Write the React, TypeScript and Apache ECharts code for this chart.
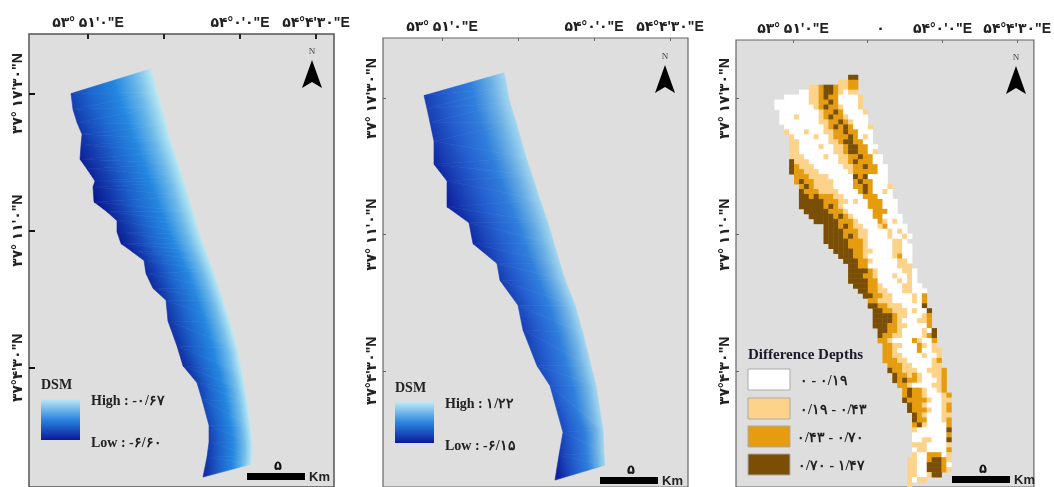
import React, { useEffect, useRef } from "react";
import * as echarts from "echarts";

const xTicks = [0, 76, 152, 228];
const xLabelValues = [0, 89, 152, 228];
const yTicks1 = [0, 138, 276];
const yTicks2 = [0, 137, 274];
const xLabels = ['۵۳° ۵۱\'۰"E', "۰", '۵۴°۰\'۰"E', '۵۴°۴\'۳۰"E'];
const yLabels = ['۳۷°۴\'۳۰"N', '۳۷° ۱۱\'۰"N', '۳۷° ۱۷\'۳۰"N'];

// strip outline, map units: [left E, left N, right E, right N, distance over which the ramp runs]
const stripDsm1 = [
  [-17, 276, 63, 301, 111], [-15, 260, 69, 277, 108], [-11, 247, 73, 263, 105], [-6, 235, 78, 245, 103],
  [-7, 224, 82, 230, 100], [-8, 210, 86, 218, 98], [-1, 200, 90, 206, 96], [7, 188, 94, 193, 94],
  [5, 182, 96, 187, 93], [6, 167, 100, 173, 92], [19, 157, 105, 157, 90], [29, 148, 108, 147, 88],
  [29, 137, 112, 134, 86], [33, 125, 115, 125, 84], [44, 117, 118, 117, 80], [56, 108, 121, 108, 77],
  [58, 95, 125, 98, 74], [65, 80, 131, 80, 73], [78, 68, 135, 68, 72], [80, 47, 142, 45, 72],
  [89, 22, 149, 20, 70], [95, 2, 154, -5, 66], [109, -15, 157, -22, 62], [114, -32, 159, -35, 60],
  [121, -58, 162, -58, 55], [121, -75, 164, -75, 54], [119, -90, 164, -88, 54], [115, -110, 163, -97, 54],
];
const stripDsm2 = [
  [-18, 277, 62, 300, 100], [-15, 264, 65, 285, 100], [-12, 250, 68, 270, 98], [-8, 231, 74, 250, 96],
  [-8, 208, 84, 215, 94], [5, 191, 90, 197, 92], [5, 165, 98, 172, 90], [27, 149, 106, 149, 88],
  [31, 128, 112, 128, 84], [55, 108, 118, 108, 80], [58, 91, 123, 92, 76], [76, 66, 133, 66, 74],
  [81, 41, 141, 38, 72], [95, 5, 149, 5, 70], [108, -15, 154, -15, 66], [121, -62, 161, -59, 52],
  [117, -85, 162, -82, 50], [113, -110, 163, -95, 48],
];
const rampDsm1 = ["#b9e8f2", "#6db9ea", "#2487e0", "#1c62cc", "#143cae", "#0b1a92"];
const rampDsm2 = ["#a2d6f0", "#6aaee4", "#2f7fdc", "#2460d0", "#1a44b8", "#0d22a0"];
const rampStops = [0, 0.15, 0.35, 0.6, 0.8, 1];

// difference-depth raster, one row per 5 map units going south: [first column, classes 0..3]
const rasterTopN = 298;
const rasterLeftE = -19;
const rasterCell = 5;
const rasterRows: [number, string][] = [
  [15, "33"], [13, "1122"], [7, "1123321122"], [5, "001123321011"], [2, "0000011232200001"],
  [0, "000000011223200001"], [0, "000000001232210001"], [1, "000000001223200001"], [1, "000100001232210000"],
  [1, "000000001122321000"], [2, "000000001232320001"], [2, "100010001122322000"], [3, "10000100122232010"],
  [3, "11000000112332200"], [3, "110000100112332200"], [3, "110000000112332201"], [3, "1110000100112232200"],
  [3, "3111000000112322200"], [3, "32111000000112232200"], [3, "32211100000012222200"], [4, "2221111000003230000"],
  [4, "2322111100002322000"], [5, "2321111000022320001"], [5, "3222111100002320010"], [5, "3323222110000222000"],
  [5, "33333222110100222000"], [5, "33333232100000222000"], [6, "3333322210000022200"], [7, "3333323210000220000"],
  [8, "333332221000021010"], [10, "33323211000120000"], [10, "33332221100001010"], [10, "333323211000010010"],
  [10, "33333222100000110"], [11, "33332221000001100"], [12, "3333221100001100"], [13, "333221000001200"],
  [14, "33322100000110"], [15, "3322000000111"], [15, "33332100000110"], [15, "33322100010010"],
  [15, "33332200001010"], [16, "33322100001100"], [17, "33221100011000"], [18, "3322110000102"],
  [19, "221110000102"], [19, "332211100003"], [20, "332211101003"], [20, "333321100012"], [20, "333321000112"],
  [20, "333221100002"], [21, "332210000103"], [21, "322110000123"], [21, "221000021002"], [22, "22110002101"],
  [22, "221000020011"], [22, "221100001001"], [22, "222110000012"], [23, "22211000011"], [23, "322111001112"],
  [24, "32212100112"], [24, "32322100012"], [25, "2210000112"], [26, "232210012"], [26, "2322100012"],
  [26, "3222210011"], [27, "322100012"], [27, "322210012"], [28, "32100011"], [28, "32200012"], [28, "23100002"],
  [28, "10000003"], [28, "00000002"], [28, "00110003"], [28, "11100001"], [28, "01100002"], [28, "10022201"],
  [27, "110023321"], [27, "110033320"], [27, "110033321"], [27, "1100133"], [27, "1011"], [27, "1"],
];
const classColors = ["#ffffff", "#fdd38a", "#e59c0e", "#7a4f05"];
const classLabels = ["۰ - ۰/۱۹", "۰/۱۹ - ۰/۴۳", "۰/۴۳ - ۰/۷۰", "۰/۷۰ - ۱/۴۷"];

const SANS = '"Liberation Sans","DejaVu Sans",sans-serif';
const SERIF = '"Liberation Serif","DejaVu Serif",serif';

function quads(rows: number[][]) {
  const out: number[][] = [];
  const depth = (r: number[]) => Math.hypot(r[2] - r[0], r[3] - r[1]) / r[4];
  for (let i = 0; i < rows.length - 1; i++) {
    const a = rows[i];
    const b = rows[i + 1];
    out.push([a[0], a[1], a[2], a[3], b[0], b[1], b[2], b[3], depth(a), depth(b)]);
  }
  return out;
}

// One triangle whose ramp position varies linearly between its corners, so neighbours join without a seam.
function shadedTriangle(pts: number[][], vals: number[], ramp: string[]) {
  const [p0, p1, p2] = pts;
  const [v0, v1, v2] = vals;
  const d = (p1[0] - p0[0]) * (p2[1] - p0[1]) - (p2[0] - p0[0]) * (p1[1] - p0[1]);
  const a = ((v1 - v0) * (p2[1] - p0[1]) - (v2 - v0) * (p1[1] - p0[1])) / d;
  const b = ((v2 - v0) * (p1[0] - p0[0]) - (v1 - v0) * (p2[0] - p0[0])) / d;
  const g2 = a * a + b * b || 1;
  const sx = p0[0] - (v0 * a) / g2;
  const sy = p0[1] - (v0 * b) / g2;
  const grad = new echarts.graphic.LinearGradient(
    sx, sy, sx + a / g2, sy + b / g2,
    ramp.map((c, i) => ({ offset: rampStops[i], color: c })), true as any
  );
  return { type: "polygon", shape: { points: pts }, style: { fill: grad, stroke: grad, lineWidth: 0.6 } };
}

function stripRender(ramp: string[]) {
  return (_: any, api: any) => {
    const p = (i: number) => api.coord([api.value(i), api.value(i + 1)]);
    const l1 = p(0), r1 = p(2), l2 = p(4), r2 = p(6);
    const t1 = api.value(8), t2 = api.value(9);
    return {
      type: "group",
      children: [
        shadedTriangle([r1, r2, l1], [0, 0, t1], ramp),
        shadedTriangle([l1, l2, r2], [t1, t2, 0], ramp),
      ],
    };
  };
}

function rasterData() {
  const out: number[][] = [];
  rasterRows.forEach(([col, s], r) => {
    for (let i = 0; i < s.length; i++) {
      out.push([rasterLeftE + (col + i) * rasterCell, rasterTopN - r * rasterCell, Number(s[i])]);
    }
  });
  return out;
}

function rasterRender(_: any, api: any) {
  const a = api.coord([api.value(0), api.value(1)]);
  const b = api.coord([api.value(0) + rasterCell, api.value(1) - rasterCell]);
  return {
    type: "rect",
    shape: { x: a[0], y: a[1], width: b[0] - a[0] + 0.4, height: b[1] - a[1] + 0.4 },
    style: { fill: classColors[api.value(2)] },
  };
}

function txt(text: string, x: number, y: number, font: string, align = "left", fill = "#222") {
  return { type: "text", x, y, silent: true, style: { text, font, fill, align, verticalAlign: "middle" } };
}

function northArrow(cx: number, tipY: number) {
  return [
    txt("N", cx, tipY - 9, `9px ${SERIF}`, "center", "#444"),
    {
      type: "polygon",
      shape: { points: [[cx, tipY], [cx + 10, tipY + 28], [cx, tipY + 22], [cx - 10, tipY + 28]] },
      style: { fill: "#000" },
    },
  ];
}

function scaleBar(x: number, y: number) {
  return [
    { type: "rect", shape: { x, y, width: 58, height: 7 }, style: { fill: "#000" } },
    txt("۵", x + 31, y - 8, `bold 13px ${SANS}`, "center", "#111"),
    txt("Km", x + 62, y + 3, `bold 13px ${SANS}`, "left", "#222"),
  ];
}

function dsmLegend(x: number, y: number, high: string, low: string) {
  return [
    txt("DSM", x, y - 15, `bold 14px ${SERIF}`),
    {
      type: "rect",
      shape: { x, y, width: 39, height: 41 },
      style: {
        fill: new echarts.graphic.LinearGradient(0, 0, 0, 1, [
          { offset: 0, color: "#bfe9f4" },
          { offset: 0.5, color: "#2a86e0" },
          { offset: 1, color: "#0b1a9a" },
        ]),
      },
    },
    txt("High : " + high, x + 50, y + 1, `bold 14px ${SERIF}`),
    txt("Low : " + low, x + 50, y + 43, `bold 14px ${SERIF}`),
  ];
}

function diffLegend() {
  const tops = [369, 398, 426, 454];
  const lx = [800, 800, 797, 798];
  const out: any[] = [txt("Difference Depths", 748, 354, `bold 15px ${SERIF}`, "left", "#1a1a2a")];
  tops.forEach((t, i) => {
    out.push({
      type: "rect",
      shape: { x: 748, y: t, width: 42, height: 21 },
      style: { fill: classColors[i], stroke: "#aaa", lineWidth: 1 },
    });
    out.push(txt(classLabels[i], lx[i], t + 11, `bold 14px ${SERIF}`));
  });
  return out;
}

function xAxis(grid: number, min: number, max: number, labelIdx: number[], thick: boolean) {
  return {
    type: "value", gridIndex: grid, position: "top", min, max,
    splitLine: { show: false }, axisLine: { show: false, onZero: false },
    axisTick: {
      show: true, inside: true, customValues: xTicks, length: thick ? 5 : 3,
      lineStyle: { color: thick ? "#222" : "#666", width: thick ? 2 : 1 },
    },
    axisLabel: {
      show: true, customValues: labelIdx.map((i) => xLabelValues[i]), margin: 5, hideOverlap: false,
      formatter: (v: number) => xLabels[xLabelValues.indexOf(v)],
      fontSize: 14, fontWeight: "bold", fontFamily: SANS, color: "#222",
    },
  };
}

function yAxis(grid: number, min: number, max: number, ticks: number[], thick: boolean) {
  return {
    type: "value", gridIndex: grid, min, max,
    splitLine: { show: false }, axisLine: { show: false, onZero: false },
    axisTick: {
      show: true, inside: true, customValues: ticks, length: thick ? 6 : 3,
      lineStyle: { color: thick ? "#111" : "#666", width: thick ? 2 : 1 },
    },
    axisLabel: {
      show: true, customValues: ticks, rotate: 90, margin: 5, hideOverlap: false,
      formatter: (v: number) => yLabels[ticks.indexOf(v)],
      fontSize: 14, fontWeight: "bold", fontFamily: SANS, color: "#222",
    },
  };
}

export default function App() {
  const ref = useRef<HTMLDivElement>(null);
  useEffect(() => {
    document.body.style.margin = "0";
    const chart = echarts.init(ref.current!, null, { renderer: "svg" });
    const gridBase = { show: true, backgroundColor: "#dedede", containLabel: false };
    chart.setOption({
      animation: false,
      backgroundColor: "#ffffff",
      grid: [
        { ...gridBase, left: 29, top: 34, width: 305, height: 456, borderColor: "#555", borderWidth: 1.5 },
        { ...gridBase, left: 383, top: 38, width: 305, height: 452, borderColor: "#666", borderWidth: 1.2 },
        { ...gridBase, left: 736, top: 40, width: 303, height: 450, borderColor: "#666", borderWidth: 1.2 },
      ],
      xAxis: [
        xAxis(0, -59, 246, [0, 2, 3], true),
        xAxis(1, -59, 246, [0, 2, 3], false),
        xAxis(2, -58, 245, [0, 1, 2, 3], false),
      ],
      yAxis: [
        yAxis(0, -120, 336, yTicks1, true),
        yAxis(1, -117, 335, yTicks2, false),
        yAxis(2, -117, 333, yTicks2, false),
      ],
      series: [
        {
          type: "custom", coordinateSystem: "cartesian2d", xAxisIndex: 0, yAxisIndex: 0,
          data: quads(stripDsm1), renderItem: stripRender(rampDsm1), encode: { x: [0, 2, 4, 6], y: [1, 3, 5, 7] }, silent: true,
        },
        {
          type: "custom", coordinateSystem: "cartesian2d", xAxisIndex: 1, yAxisIndex: 1,
          data: quads(stripDsm2), renderItem: stripRender(rampDsm2), encode: { x: [0, 2, 4, 6], y: [1, 3, 5, 7] }, silent: true,
        },
        {
          type: "custom", coordinateSystem: "cartesian2d", xAxisIndex: 2, yAxisIndex: 2,
          data: rasterData(), renderItem: rasterRender, encode: { x: 0, y: 1 }, silent: true,
        },
      ],
      graphic: [
        ...northArrow(312, 60),
        ...northArrow(665, 65),
        ...northArrow(1016, 66),
        ...dsmLegend(41, 399, "-۰/۶۷", "-۶/۶۰"),
        ...dsmLegend(395, 402, "۱/۲۲", "-۶/۱۵"),
        ...diffLegend(),
        ...scaleBar(247, 473),
        ...scaleBar(600, 477),
        ...scaleBar(952, 476),
      ],
    });
    return () => chart.dispose();
  }, []);
  return <div ref={ref} style={{ width: 1054, height: 487, position: "fixed", left: 0, top: 0, filter: "blur(0.5px)" }} />;
}
